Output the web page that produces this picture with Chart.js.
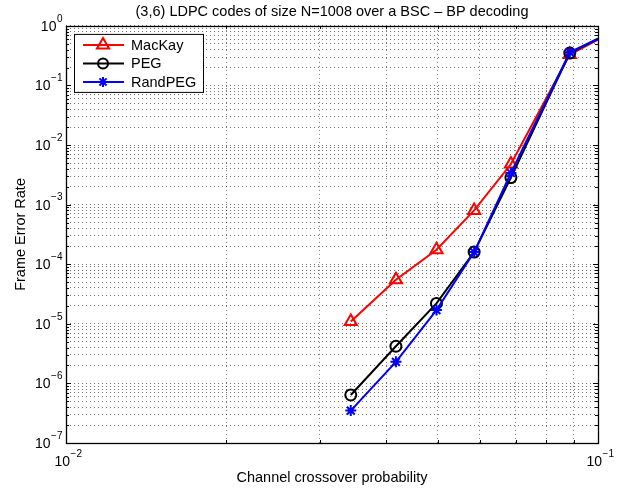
<!DOCTYPE html>
<html>
<head>
<meta charset="utf-8">
<script src="https://cdn.jsdelivr.net/npm/chart.js@4.4.0/dist/chart.umd.min.js"></script>
<style>
body { margin: 0; background: #fff; }
#wrap { width: 626px; height: 490px; }
</style>
</head>
<body>
<div id="wrap"><canvas id="fer"></canvas></div>
<script>
// channel crossover probability and frame error rate
const crossover = [0.0343, 0.0417, 0.0497, 0.0585, 0.0686, 0.0885, 0.11];
const macKay = [1.09e-5, 5.5e-5, 1.75e-4, 8.0e-4, 4.8e-3, 0.33, 0.93];
const peg = [6.4e-7, 4.2e-6, 2.2e-5, 1.6e-4, 2.85e-3, 0.35, 0.93];
const randPeg = [3.5e-7, 2.3e-6, 1.7e-5, 1.6e-4, 3.4e-3, 0.36, 0.93];
const xDecades = [-2, -1];
const yDecades = [-7, -6, -5, -4, -3, -2, -1, 0];
const seriesNames = ['MacKay', 'PEG', 'RandPEG'];

const FONT = '"Liberation Sans", Arial, Helvetica, sans-serif';

const logTicks = (decades) => {
    let out = [];
    for (let i = 0; i < decades.length - 1; i++) {
        for (let m = 1; m <= 9; m++) {
            out.push({ value: m * Math.pow(10, decades[i]) });
        }
    }
    out.push({ value: Math.pow(10, decades[decades.length - 1]) });
    return out;
}

const toPoints = (ys) => crossover.map((x, i) => ({ x: x, y: ys[i] }));

const isMajor = (v) => Math.abs(Math.log10(v) - Math.round(Math.log10(v))) < 1e-9;

const expText = (d) => d < 0 ? '\u2212' + (-d) : String(d);

const drawMarker = (ctx, style, radius, color, x, y) => {
    ctx.save();
    ctx.strokeStyle = color;
    ctx.fillStyle = 'rgba(0,0,0,0)';
    ctx.lineWidth = 2;
    Chart.helpers.drawPoint(ctx, { pointStyle: style, radius: radius, rotation: 0, borderWidth: 2 }, x, y);
    ctx.restore();
}

const sup = (ctx, base, exp, x, y, align) => {
    ctx.font = '14px ' + FONT;
    let wb = ctx.measureText(base).width;
    ctx.font = '10px ' + FONT;
    let we = ctx.measureText(exp).width;
    let left = align === 'right' ? x - wb - we : x - (wb + we) / 2;
    ctx.textBaseline = 'middle';
    ctx.textAlign = 'left';
    ctx.font = '14px ' + FONT;
    ctx.fillText(base, left, y);
    ctx.font = '10px ' + FONT;
    ctx.fillText(exp, left + wb + 0.5, y - 8);
}

const framePlugin = {
    id: 'frame',
    afterDraw(chart) {
        const ctx = chart.ctx;
        const a = chart.chartArea;
        const xs = chart.scales.x;
        const ys = chart.scales.y;
        ctx.save();
        ctx.strokeStyle = '#000';
        ctx.lineWidth = 1;
        // inward ticks
        ctx.beginPath();
        logTicks(xDecades).forEach(t => {
            let px = Math.round(xs.getPixelForValue(t.value)) + 0.5;
            let len = isMajor(t.value) ? 5 : 3;
            ctx.moveTo(px, a.bottom); ctx.lineTo(px, a.bottom - len);
            ctx.moveTo(px, a.top); ctx.lineTo(px, a.top + len);
        });
        logTicks(yDecades).forEach(t => {
            let py = Math.round(ys.getPixelForValue(t.value)) + 0.5;
            let len = isMajor(t.value) ? 5 : 3;
            ctx.moveTo(a.left, py); ctx.lineTo(a.left + len, py);
            ctx.moveTo(a.right, py); ctx.lineTo(a.right - len, py);
        });
        ctx.stroke();
        ctx.lineWidth = 1.3;
        ctx.strokeRect(Math.round(a.left) + 0.5, Math.round(a.top) + 0.5,
            Math.round(a.right - a.left), Math.round(a.bottom - a.top));

        // tick labels 10^n
        ctx.fillStyle = '#000';
        yDecades.forEach(d => {
            sup(ctx, '10', expText(d), a.left - 4, ys.getPixelForValue(Math.pow(10, d)) + 1, 'right');
        });
        xDecades.forEach(d => {
            sup(ctx, '10', expText(d), xs.getPixelForValue(Math.pow(10, d)) + 2, a.bottom + 19, 'center');
        });

        // legend box
        const colors = ['#ff0000', '#000000', '#0000ff'];
        const styles = ['triangle', 'circle', 'star'];
        const radii = [7, 5, 5];
        let bx = a.left + 8, by = a.top + 8, bw = 129, bh = 58;
        ctx.fillStyle = '#fff';
        ctx.fillRect(bx, by, bw, bh);
        ctx.lineWidth = 1;
        ctx.strokeStyle = '#000';
        ctx.strokeRect(bx + 0.5, by + 0.5, bw, bh);
        seriesNames.forEach((name, i) => {
            let cy = by + 11 + i * 18.5;
            ctx.strokeStyle = colors[i];
            ctx.lineWidth = 2;
            ctx.beginPath();
            ctx.moveTo(bx + 9, cy); ctx.lineTo(bx + 50, cy);
            ctx.stroke();
            drawMarker(ctx, styles[i], radii[i], colors[i], bx + 29, cy);
            ctx.fillStyle = '#000';
            ctx.font = '14.5px ' + FONT;
            ctx.textAlign = 'left';
            ctx.textBaseline = 'middle';
            ctx.fillText(name, bx + 57, cy + 1);
        });
        ctx.restore();
    }
}

const gridOpts = {
    color: 'rgba(0,0,0,0.55)',
    lineWidth: 1,
    drawTicks: false
};

new Chart(document.getElementById('fer'), {
    type: 'line',
    data: {
        datasets: [{
                label: seriesNames[0],
                data: toPoints(macKay),
                borderColor: '#ff0000',
                pointStyle: 'triangle',
                pointRadius: 7,
                order: 3
            }, {
                label: seriesNames[1],
                data: toPoints(peg),
                borderColor: '#000000',
                pointStyle: 'circle',
                pointRadius: 5.5,
                order: 2
            }, {
                label: seriesNames[2],
                data: toPoints(randPeg),
                borderColor: '#0000ff',
                pointStyle: 'star',
                pointRadius: 5.5,
                order: 1
            }]
    },
    options: {
        responsive: true,
        maintainAspectRatio: false,
        animation: false,
        events: [],
        layout: { padding: { left: 0, right: 28, top: 0, bottom: 0 } },
        datasets: {
            line: {
                borderWidth: 2,
                tension: 0,
                pointBackgroundColor: 'rgba(0,0,0,0)',
                pointBorderWidth: 2,
                pointBorderColor: (c) => c.dataset.borderColor,
                clip: 0
            }
        },
        plugins: {
            legend: { display: false },
            tooltip: { enabled: false },
            title: {
                display: true,
                fullSize: false,
                text: '(3,6) LDPC codes of size N=1008 over a BSC \u2013 BP decoding',
                color: '#000',
                font: { family: FONT, size: 14.5, weight: 'normal' },
                padding: { top: 3, bottom: 5.5 }
            }
        },
        scales: {
            x: {
                type: 'logarithmic',
                min: 0.01,
                max: 0.1,
                afterBuildTicks: (s) => { s.ticks = logTicks(xDecades); },
                afterFit: (s) => { s.height = 47; },
                ticks: { display: false },
                grid: gridOpts,
                border: { display: false, dash: [1, 3] },
                title: {
                    display: true,
                    text: 'Channel crossover probability',
                    color: '#000',
                    font: { family: FONT, size: 14.5 },
                    padding: 3
                }
            },
            y: {
                type: 'logarithmic',
                min: 1e-7,
                max: 1,
                afterBuildTicks: (s) => { s.ticks = logTicks(yDecades); },
                afterFit: (s) => { s.width = 66; },
                ticks: { display: false },
                grid: gridOpts,
                border: { display: false, dash: [1, 3] },
                title: {
                    display: true,
                    text: 'Frame Error Rate',
                    color: '#000',
                    font: { family: FONT, size: 14.5 },
                    padding: 12
                }
            }
        }
    },
    plugins: [framePlugin]
});
</script>
</body>
</html>
